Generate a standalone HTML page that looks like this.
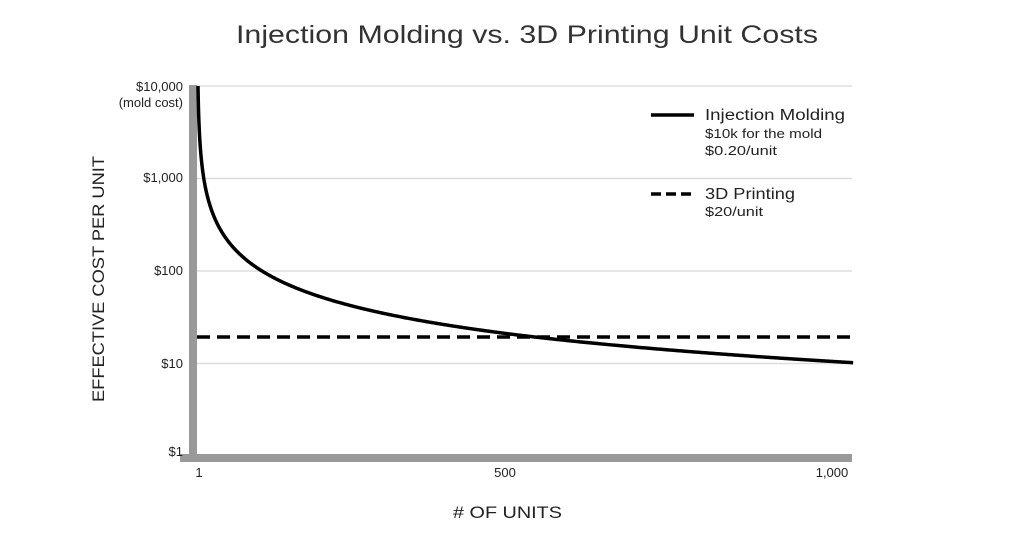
<!DOCTYPE html>
<html><head><meta charset="utf-8"><style>
html,body{margin:0;padding:0;background:#fff;}
svg{display:block;font-family:"Liberation Sans",sans-serif;}
</style></head><body>
<svg id="s" width="1024" height="533" viewBox="0 0 1024 533" xmlns="http://www.w3.org/2000/svg">
<text x="236" y="43" textLength="582" lengthAdjust="spacingAndGlyphs" font-size="25" fill="#333">Injection Molding vs. 3D Printing Unit Costs</text>
<g stroke="#ddd" stroke-width="1.5">
<line x1="197" y1="86" x2="852" y2="86"/>
<line x1="197" y1="178.5" x2="852" y2="178.5"/>
<line x1="197" y1="271" x2="852" y2="271"/>
<line x1="197" y1="363.5" x2="852" y2="363.5"/>
</g>
<rect x="189" y="85" width="8" height="377" fill="#999"/>
<rect x="180" y="454" width="672" height="8" fill="#999"/>
<g font-size="13" fill="#222" text-anchor="end">
<text x="183" y="91">$10,000</text>
<text x="183" y="107">(mold cost)</text>
<text x="183" y="182">$1,000</text>
<text x="183" y="275">$100</text>
<text x="183" y="368">$10</text>
<text x="183" y="456">$1</text>
</g>
<g font-size="13" fill="#222" text-anchor="middle">
<text x="199" y="477">1</text>
<text x="505" y="477">500</text>
<text x="832" y="477">1,000</text>
</g>
<text x="453" y="518" textLength="109" lengthAdjust="spacingAndGlyphs" font-size="17" fill="#222">&#35; OF UNITS</text>
<text transform="translate(104,402) rotate(-90)" textLength="246" lengthAdjust="spacingAndGlyphs" font-size="17" fill="#222">EFFECTIVE COST PER UNIT</text>
<line x1="197" y1="337" x2="852" y2="337" stroke="#000" stroke-width="3.5" stroke-dasharray="13,7"/>
<path id="curve" fill="none" stroke="#000" stroke-width="3.5"/>
<line x1="651" y1="115" x2="694" y2="115" stroke="#000" stroke-width="3.5"/>
<line x1="651" y1="194" x2="694" y2="194" stroke="#000" stroke-width="3.5" stroke-dasharray="10,5"/>
<text x="705" y="120" textLength="140" lengthAdjust="spacingAndGlyphs" font-size="15.5" fill="#222">Injection Molding</text>
<text x="705" y="138" textLength="117" lengthAdjust="spacingAndGlyphs" font-size="12.5" fill="#222">$10k for the mold</text>
<text x="705" y="155" textLength="72" lengthAdjust="spacingAndGlyphs" font-size="12.5" fill="#222">$0.20/unit</text>
<text x="705" y="199" textLength="90" lengthAdjust="spacingAndGlyphs" font-size="15.5" fill="#222">3D Printing</text>
<text x="705" y="216" textLength="58" lengthAdjust="spacingAndGlyphs" font-size="12.5" fill="#222">$20/unit</text>
</svg>
<script>
var d="";
function X(n){return 198+(n-1)*0.645+ (n>500?(n-500)*0.0216:0);}
function Y(c){return 456-92.5*Math.log10(c);}
var ns=[];
for(var n=1;n<=20;n+=0.1)ns.push(n);
for(var n=20;n<=1000;n+=2)ns.push(n);
ns.forEach(function(n,i){d+=(i?"L":"M")+X(n).toFixed(2)+","+Y(10000/n+0.2).toFixed(2);});
document.getElementById("curve").setAttribute("d",d);
</script>
</body></html>
